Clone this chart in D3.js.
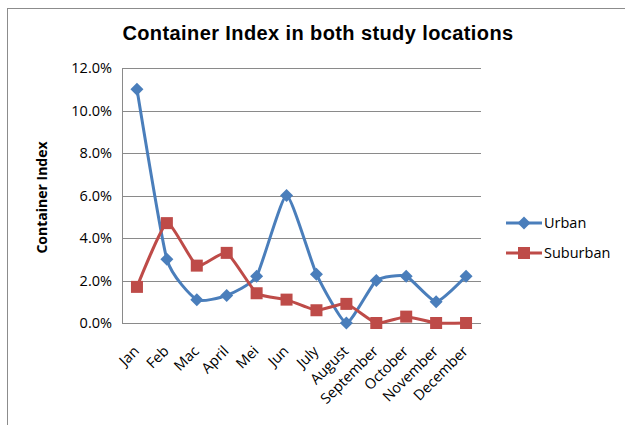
<!DOCTYPE html>
<html lang="en">
<head>
<meta charset="UTF-8">
<title>Container Index in both study locations</title>
<style>
  body, html { margin: 0; padding: 0; background: #ffffff; }
  svg { display: block; }
  .tick-label { font-family: "Open Sans", Lato, sans-serif; font-size: 14.5px; fill: #000; }
</style>
</head>
<body>
<div id="chart"></div>
<script src="https://d3js.org/d3.v7.min.js"></script>
<script>
const months = ["Jan", "Feb", "Mac", "April", "Mei", "Jun", "July", "August",
                "September", "October", "November", "December"];
const urban    = [11.0, 3.0, 1.1, 1.3, 2.2, 6.0, 2.3, 0.0, 2.0, 2.2, 1.0, 2.2];
const suburban = [1.7, 4.7, 2.7, 3.3, 1.4, 1.1, 0.6, 0.9, 0.0, 0.3, 0.0, 0.0];
const yTicks   = [0, 2, 4, 6, 8, 10, 12];

const width = 625, height = 425;
const plot = { left: 122, right: 481, top: 68, bottom: 323 };

const svg = d3.select('#chart').append('svg')
    .attr('width', width)
    .attr('height', height);

// outer chart frame
svg.append('rect')
    .attr('x', 7.5).attr('y', 8.5)
    .attr('width', 640).attr('height', 440)
    .attr('fill', 'none')
    .attr('stroke', '#8c8c8c')
    .attr('stroke-width', 1);

const x = d3.scaleBand().domain(months).range([plot.left, plot.right]);
const y = d3.scaleLinear().domain([0, 12]).range([plot.bottom, plot.top]);
const cx = d => x(d) + x.bandwidth() / 2;

// gridlines
svg.append('g')
    .selectAll('line')
    .data(yTicks.slice(1))
    .enter().append('line')
    .attr('x1', plot.left).attr('x2', plot.right)
    .attr('y1', d => Math.round(y(d)) + 0.5)
    .attr('y2', d => Math.round(y(d)) + 0.5)
    .attr('stroke', '#8a8a8a');

// axes lines
svg.append('line')
    .attr('x1', plot.left + 0.5).attr('x2', plot.left + 0.5)
    .attr('y1', plot.top).attr('y2', plot.bottom)
    .attr('stroke', '#8a8a8a');
svg.append('line')
    .attr('x1', plot.left).attr('x2', plot.right)
    .attr('y1', plot.bottom + 0.5).attr('y2', plot.bottom + 0.5)
    .attr('stroke', '#8a8a8a');

// y tick labels
svg.append('g')
    .selectAll('text')
    .data(yTicks)
    .enter().append('text')
    .attr('class', 'tick-label')
    .attr('x', plot.left - 10)
    .attr('y', d => y(d))
    .attr('dy', '0.35em')
    .attr('text-anchor', 'end')
    .text(d => d.toFixed(1) + '%');

// x tick labels
svg.append('g')
    .selectAll('text')
    .data(months)
    .enter().append('text')
    .attr('class', 'tick-label')
    .attr('text-anchor', 'end')
    .attr('transform', d => `translate(${cx(d) + 3},${plot.bottom + 29}) rotate(-45)`)
    .text(d => d);

// title
svg.append('text')
    .attr('x', 318).attr('y', 40)
    .attr('text-anchor', 'middle')
    .attr('font-family', '"Liberation Sans", Arial, sans-serif')
    .attr('font-weight', 'bold')
    .attr('font-size', 20)
    .attr('letter-spacing', 0.4)
    .attr('fill', '#000')
    .text('Container Index in both study locations');

// y axis title
svg.append('text')
    .attr('transform', `translate(47,${(plot.top + plot.bottom) / 2 + 2}) rotate(-90)`)
    .attr('text-anchor', 'middle')
    .attr('font-family', '"Open Sans", Lato, sans-serif')
    .attr('font-weight', 'bold')
    .attr('font-size', 14)
    .text('Container Index');

const series = [
    { name: 'Urban', values: urban, color: '#4a7ebb', marker: 'diamond' },
    { name: 'Suburban', values: suburban, color: '#be4b48', marker: 'square' }
];

const line = d3.line()
    .x((d, i) => cx(months[i]))
    .y(d => y(d))
    .curve(d3.curveCardinal.tension(0.5));

function drawMarker(g, type, color) {
    if (type === 'diamond') {
        g.append('path')
            .attr('d', 'M0,-6.5L6.5,0L0,6.5L-6.5,0Z')
            .attr('fill', color);
    } else {
        g.append('rect')
            .attr('x', -6).attr('y', -6)
            .attr('width', 12).attr('height', 12)
            .attr('fill', color);
    }
}

series.forEach(s => {
    svg.append('path')
        .datum(s.values)
        .attr('d', line)
        .attr('fill', 'none')
        .attr('stroke', s.color)
        .attr('stroke-width', 3);

    s.values.forEach((v, i) => {
        const g = svg.append('g')
            .attr('transform', `translate(${cx(months[i])},${y(v)})`);
        drawMarker(g, s.marker, s.color);
    });
});

// legend
const legend = svg.append('g');
series.forEach((s, i) => {
    const ly = 223 + i * 30;
    legend.append('line')
        .attr('x1', 506).attr('x2', 542)
        .attr('y1', ly).attr('y2', ly)
        .attr('stroke', s.color)
        .attr('stroke-width', 3);
    const g = legend.append('g').attr('transform', `translate(524,${ly})`);
    drawMarker(g, s.marker, s.color);
    legend.append('text')
        .attr('class', 'tick-label')
        .attr('x', 544).attr('y', ly)
        .attr('dy', '0.35em')
        .text(s.name);
});
</script>
</body>
</html>
